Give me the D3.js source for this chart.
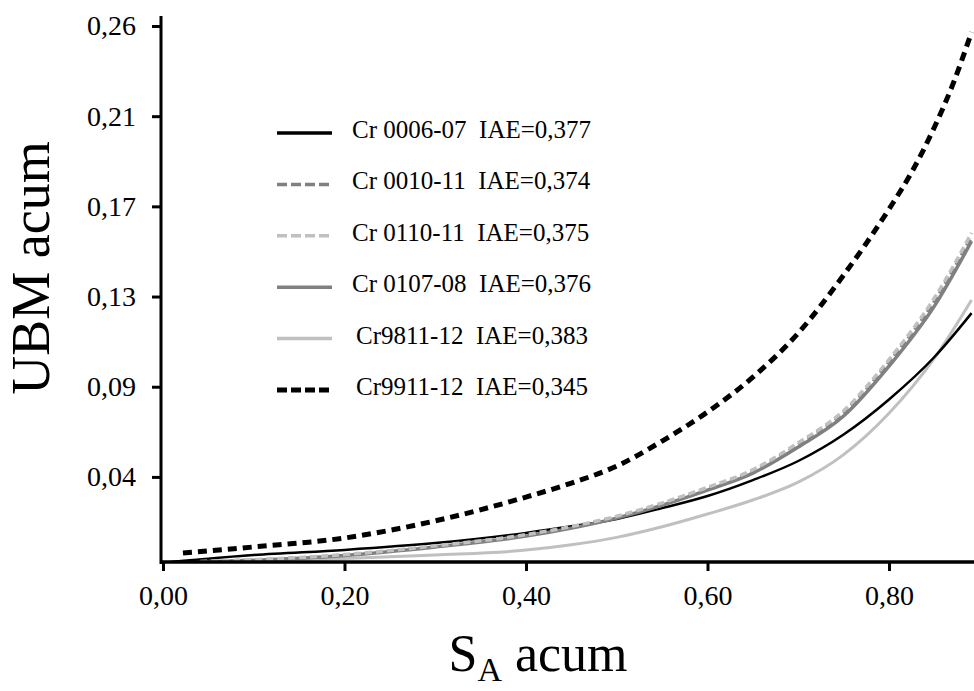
<!DOCTYPE html>
<html>
<head>
<meta charset="utf-8">
<script src="https://cdn.jsdelivr.net/npm/d3@7"></script>
<style>
  body { margin: 0; background: #fff; }
</style>
</head>
<body>
<div id="chart"></div>
<script>
// data (x = S_A acum, y = UBM acum)
var xTicks = [0, 0.2, 0.4, 0.6, 0.8];
var xTickLabels = ["0,00", "0,20", "0,40", "0,60", "0,80"];
var yTicks = [0.0425, 0.085, 0.1275, 0.17, 0.2125, 0.255];
var yTickLabels = ["0,04", "0,09", "0,13", "0,17", "0,21", "0,26"];

var seriesNames = ["Cr9811-12  IAE=0,383", "Cr 0006-07  IAE=0,377", "Cr 0107-08  IAE=0,376",
                   "Cr 0010-11  IAE=0,374", "Cr 0110-11  IAE=0,375", "Cr9911-12  IAE=0,345"];

var cr9811x = [0.03, 0.2, 0.3, 0.4, 0.45, 0.5, 0.55, 0.6, 0.65, 0.7, 0.75, 0.8, 0.85, 0.891];
var cr9811y = [0.0019, 0.0040, 0.0057, 0.0080, 0.0105, 0.0140, 0.0190, 0.0250, 0.0316, 0.0400, 0.0530, 0.0725, 0.0985, 0.1259];

var cr0006x = [0.008, 0.1, 0.2, 0.3, 0.4, 0.45, 0.5, 0.55, 0.6, 0.65, 0.7, 0.75, 0.8, 0.85, 0.891];
var cr0006y = [0.0024, 0.0057, 0.0081, 0.0113, 0.0161, 0.0192, 0.0227, 0.0278, 0.0335, 0.0410, 0.0500, 0.0625, 0.0790, 0.0990, 0.1197];

var cr0107x = [0.041, 0.2, 0.3, 0.4, 0.5, 0.6, 0.65, 0.7, 0.75, 0.8, 0.85, 0.891];
var cr0107y = [0.0024, 0.0055, 0.0095, 0.0146, 0.0231, 0.0363, 0.0443, 0.0566, 0.0712, 0.0947, 0.1230, 0.1536];

var cr0010x = [0.041, 0.2, 0.3, 0.4, 0.5, 0.6, 0.65, 0.7, 0.75, 0.8, 0.85, 0.891];
var cr0010y = [0.0025, 0.0057, 0.0098, 0.0150, 0.0236, 0.0370, 0.0452, 0.0577, 0.0726, 0.0965, 0.1252, 0.1556];

var cr0110x = [0.041, 0.2, 0.3, 0.4, 0.5, 0.6, 0.65, 0.7, 0.75, 0.8, 0.85, 0.891];
var cr0110y = [0.0026, 0.0059, 0.0100, 0.0153, 0.0240, 0.0376, 0.0459, 0.0586, 0.0737, 0.0978, 0.1268, 0.1575];

var cr9911x = [0.022, 0.1, 0.2, 0.3, 0.4, 0.45, 0.5, 0.55, 0.6, 0.65, 0.7, 0.75, 0.8, 0.825, 0.85, 0.87, 0.891];
var cr9911y = [0.0066, 0.0095, 0.0137, 0.0218, 0.0330, 0.0396, 0.0476, 0.0594, 0.0731, 0.0895, 0.1103, 0.1376, 0.1687, 0.1861, 0.2073, 0.2271, 0.2521];

var seriesX = [cr9811x, cr0006x, cr0107x, cr0010x, cr0110x, cr9911x];
var seriesY = [cr9811y, cr0006y, cr0107y, cr0010y, cr0110y, cr9911y];
var seriesColor = ["#c0c0c0", "#000000", "#808080", "#808080", "#c0c0c0", "#000000"];
var seriesWidth = [3, 2.5, 3.5, 3.5, 3.5, 5];
var seriesDash = [null, null, null, "7,4", "7,4", "9,6"];

// legend order as in the picture
var legendOrder = [1, 3, 4, 2, 0, 5];
var legendDash = [null, "10,4", "10,4", null, null, "10,4"];

var W = 974, H = 691;
var FONT = "Liberation Serif";

var svg = d3.select("#chart").append("svg")
  .attr("width", W).attr("height", H)
  .attr("font-family", FONT)
  .style("background", "#fff");

var x = d3.scaleLinear().domain([0, 0.9]).range([163, 163 + 0.9 * 907.5]);
var y = d3.scaleLinear().domain([0.0024, 0.255]).range([562, 26]);

svg.append("clipPath").attr("id", "plotclip")
  .append("rect").attr("x", 162).attr("y", 0).attr("width", W - 162).attr("height", 562);

var line = d3.line()
  .x(function(d) { return x(d[0]); })
  .y(function(d) { return y(d[1]); })
  .curve(d3.curveMonotoneX);

var plot = svg.append("g").attr("clip-path", "url(#plotclip)");
seriesX.forEach(function(xs, i) {
  var pts = xs.map(function(v, j) { return [v, seriesY[i][j]]; });
  plot.append("path")
    .attr("d", line(pts))
    .attr("fill", "none")
    .attr("stroke", seriesColor[i])
    .attr("stroke-width", seriesWidth[i])
    .attr("stroke-dasharray", seriesDash[i]);
});

// axes
var xAxis = svg.append("g")
  .attr("transform", "translate(0," + y(0.0024) + ")")
  .call(d3.axisBottom(x).tickValues(xTicks).tickSize(9).tickPadding(14)
    .tickFormat(function(d, i) { return xTickLabels[i]; }))
  .attr("font-family", FONT).attr("font-size", 28);
xAxis.select(".domain").attr("stroke-width", 3.5).attr("d", "M161,0H" + W);
xAxis.selectAll(".tick line").attr("stroke-width", 3);
xAxis.selectAll(".tick text").attr("fill", "#000");

var yAxis = svg.append("g")
  .attr("transform", "translate(161,0)")
  .call(d3.axisLeft(y).tickValues(yTicks).tickSize(9).tickPadding(16)
    .tickFormat(function(d, i) { return yTickLabels[i]; }))
  .attr("font-family", FONT).attr("font-size", 28);
yAxis.select(".domain").attr("stroke-width", 3).attr("d", "M0,16V564");
yAxis.selectAll(".tick line").attr("stroke-width", 3);
yAxis.selectAll(".tick text").attr("fill", "#000");

// axis titles
svg.append("text")
  .attr("transform", "translate(49,268) rotate(-90)")
  .attr("text-anchor", "middle")
  .attr("font-family", FONT)
  .attr("font-size", 54)
  .text("UBM acum");

var xt = svg.append("text")
  .attr("x", 538).attr("y", 671)
  .attr("text-anchor", "middle")
  .attr("font-family", FONT)
  .attr("font-size", 52);
xt.append("tspan").text("S");
xt.append("tspan").attr("dy", 10).attr("font-size", 34).text("A");
xt.append("tspan").attr("dy", -10).text(" acum");

// legend
var leg = svg.append("g");
legendOrder.forEach(function(si, r) {
  var ly = 133 + r * 51.4;
  leg.append("line")
    .attr("x1", 277).attr("x2", 332).attr("y1", ly).attr("y2", ly)
    .attr("stroke", seriesColor[si])
    .attr("stroke-width", si == 5 ? 5 : 3.5)
    .attr("stroke-dasharray", legendDash[r]);
  leg.append("text")
    .attr("x", si == 0 || si == 5 ? 356 : 352)
    .attr("y", ly + 5)
    .attr("font-family", FONT)
    .attr("font-size", 25)
    .attr("xml:space", "preserve")
    .style("white-space", "pre")
    .text(seriesNames[si]);
});
</script>
</body>
</html>
